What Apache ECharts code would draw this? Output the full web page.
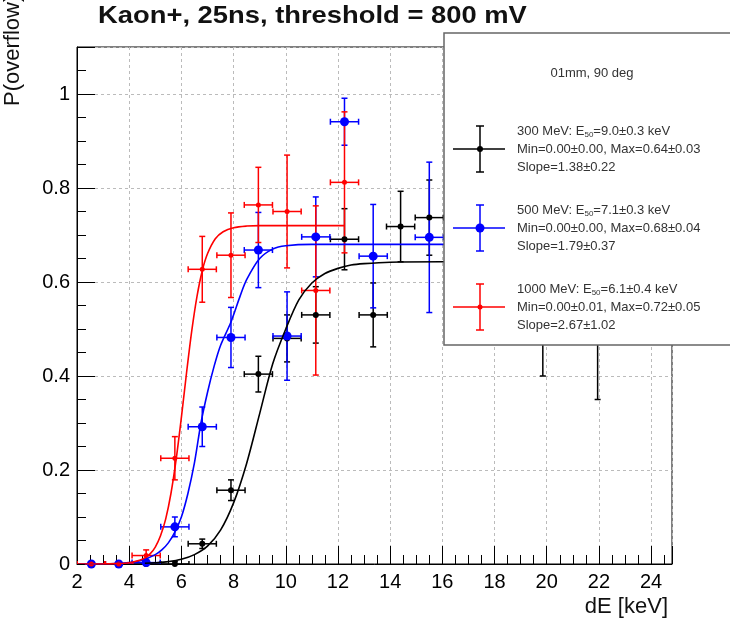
<!DOCTYPE html>
<html>
<head>
<meta charset="utf-8">
<script src="https://cdn.jsdelivr.net/npm/echarts@6/dist/echarts.min.js"></script>
<style>
  html, body { margin: 0; padding: 0; background: #fff; }
  #chart { width: 730px; height: 627px; }
</style>
</head>
<body>
<div id="chart"></div>
<script>
// 300 MeV (black)
const blackX   = [4.65, 5.75, 6.8, 7.9, 8.95, 10.05, 11.15, 12.25, 13.35, 14.4, 15.5, 19.85, 21.95];
const blackY   = [0.0, 0.0, 0.043, 0.157, 0.404, 0.48, 0.53, 0.691, 0.53, 0.718, 0.737, 0.62, 0.62];
const blackErr = [0.004, 0.005, 0.01, 0.022, 0.038, 0.05, 0.06, 0.065, 0.068, 0.075, 0.08, 0.22, 0.27];
// 500 MeV (blue)
const blueX   = [2.55, 3.6, 4.65, 5.75, 6.8, 7.9, 8.95, 10.05, 11.15, 12.25, 13.35, 15.5];
const blueY   = [0.0, 0.0, 0.003, 0.079, 0.292, 0.482, 0.668, 0.485, 0.696, 0.941, 0.655, 0.695];
const blueErr = [0.003, 0.003, 0.005, 0.021, 0.042, 0.064, 0.08, 0.094, 0.085, 0.05, 0.11, 0.16];
// 1000 MeV (red)
const redX   = [2.55, 3.6, 4.65, 5.75, 6.8, 7.9, 8.95, 10.05, 11.15, 12.25];
const redY   = [0.0, 0.0, 0.018, 0.225, 0.627, 0.657, 0.764, 0.75, 0.582, 0.812];
const redErr = [0.003, 0.003, 0.012, 0.046, 0.07, 0.09, 0.08, 0.12, 0.18, 0.15];
const binHalf = 0.54;

// fitted curves
const blackFitX = [4.6, 5.0, 5.5, 6.0, 6.5, 7.0, 7.5, 8.0, 8.5, 9.0, 9.5, 10.0, 10.5, 11.0, 11.5, 12.0, 12.5, 13.0, 14.0, 16.0, 22.5];
const blackFitY = [0.0015, 0.0026, 0.005, 0.010, 0.02, 0.038, 0.072, 0.13, 0.214, 0.32, 0.426, 0.5, 0.562, 0.598, 0.618, 0.629, 0.636, 0.639, 0.642, 0.643, 0.643];
const blueFitX = [2.3, 3.5, 4.0, 4.5, 5.0, 5.25, 5.5, 5.75, 6.0, 6.25, 6.5, 6.75, 7.0, 7.25, 7.5, 7.9, 8.25, 8.5, 9.0, 9.5, 10.0, 11.0, 16.2];
const blueFitY = [0.0, 0.001, 0.003, 0.008, 0.02, 0.03, 0.045, 0.068, 0.1, 0.15, 0.215, 0.3, 0.365, 0.42, 0.465, 0.515, 0.57, 0.605, 0.65, 0.67, 0.677, 0.68, 0.68];
const redFitX = [2.3, 3.0, 3.5, 4.0, 4.5, 4.8, 5.0, 5.2, 5.4, 5.6, 5.8, 6.0, 6.2, 6.4, 6.6, 6.8, 7.0, 7.3, 7.6, 8.0, 8.5, 9.0, 10.0, 12.25];
const redFitY = [0.0, 0.0002, 0.0007, 0.0026, 0.0099, 0.0217, 0.036, 0.06, 0.096, 0.15, 0.223, 0.312, 0.408, 0.497, 0.57, 0.624, 0.66, 0.692, 0.707, 0.7155, 0.719, 0.72, 0.72, 0.72];

const legendLines = [
  ['300 MeV: E{sub|50}=9.0±0.3 keV', 'Min=0.00±0.00, Max=0.64±0.03', 'Slope=1.38±0.22'],
  ['500 MeV: E{sub|50}=7.1±0.3 keV', 'Min=0.00±0.00, Max=0.68±0.04', 'Slope=1.79±0.37'],
  ['1000 MeV: E{sub|50}=6.1±0.4 keV', 'Min=0.00±0.01, Max=0.72±0.05', 'Slope=2.67±1.02']
];
const colors = ['#000000', '#0000ff', '#ff0000'];

const FONT = '"Liberation Sans", Arial, Helvetica, sans-serif';
const chart = echarts.init(document.getElementById('chart'));

function zip(xs, ys, es) {
  return xs.map((x, i) => es ? [x, ys[i], es[i]] : [x, ys[i]]);
}

function errRender(color) {
  return function (params, api) {
    const x = api.value(0), y = api.value(1), e = api.value(2);
    const c = api.coord([x, y]);
    const t = api.coord([x, y + e]);
    const b = api.coord([x, y - e]);
    const l = api.coord([x - binHalf, y]);
    const r = api.coord([x + binHalf, y]);
    const st = { stroke: color, lineWidth: 1.5 };
    const cap = 3;
    return {
      type: 'group',
      children: [
        { type: 'line', shape: { x1: c[0], y1: t[1], x2: c[0], y2: b[1] }, style: st },
        { type: 'line', shape: { x1: l[0], y1: c[1], x2: r[0], y2: c[1] }, style: st },
        { type: 'line', shape: { x1: c[0] - cap, y1: t[1], x2: c[0] + cap, y2: t[1] }, style: st },
        { type: 'line', shape: { x1: c[0] - cap, y1: b[1], x2: c[0] + cap, y2: b[1] }, style: st },
        { type: 'line', shape: { x1: l[0], y1: c[1] - cap, x2: l[0], y2: c[1] + cap }, style: st },
        { type: 'line', shape: { x1: r[0], y1: c[1] - cap, x2: r[0], y2: c[1] + cap }, style: st }
      ]
    };
  };
}

function fitSeries(xs, ys, color) {
  return {
    type: 'line', data: zip(xs, ys), smooth: 0.3, symbol: 'none',
    lineStyle: { color: color, width: 1.6 }, silent: true, clip: true
  };
}
function errSeries(xs, ys, es, color) {
  return { type: 'custom', data: zip(xs, ys, es), renderItem: errRender(color), clip: true, silent: true };
}
function markSeries(xs, ys, color, size) {
  return {
    type: 'scatter', data: zip(xs, ys), symbol: 'circle', symbolSize: size,
    itemStyle: { color: color, opacity: 1 }, silent: true
  };
}

// legend drawn on top of the plot
const lg = [];
lg.push({ type: 'rect', z: 100, shape: { x: 444, y: 33, width: 300, height: 312 },
  style: { fill: '#fff', stroke: '#666', lineWidth: 1.5 } });
lg.push({ type: 'text', z: 101, x: 592, y: 73,
  style: { text: '01mm, 90 deg', font: '13px ' + FONT, fill: '#333', align: 'center', verticalAlign: 'middle' } });
const entryY = [149, 228, 307];
const markSize = [6, 9, 5];
entryY.forEach((cy, k) => {
  const col = colors[k];
  const st = { stroke: col, lineWidth: 1.5 };
  lg.push({ type: 'line', z: 101, shape: { x1: 480, y1: cy - 23, x2: 480, y2: cy + 23 }, style: st });
  lg.push({ type: 'line', z: 101, shape: { x1: 476, y1: cy - 23, x2: 484, y2: cy - 23 }, style: st });
  lg.push({ type: 'line', z: 101, shape: { x1: 476, y1: cy + 23, x2: 484, y2: cy + 23 }, style: st });
  lg.push({ type: 'line', z: 101, shape: { x1: 453, y1: cy, x2: 505, y2: cy }, style: st });
  lg.push({ type: 'circle', z: 102, shape: { cx: 480, cy: cy, r: markSize[k] / 2 }, style: { fill: col } });
  legendLines[k].forEach((txt, j) => {
    lg.push({ type: 'text', z: 101, x: 517, y: cy - 18 + j * 18,
      style: {
        text: txt, font: '13px ' + FONT, fill: '#333', align: 'left', verticalAlign: 'middle',
        rich: { sub: { fontSize: 8, fontFamily: FONT, fill: '#333', padding: [7, 0, 0, 0] } }
      } });
  });
});

const option = {
  backgroundColor: '#fff',
  animation: false,
  grid: { left: 77, right: 58, top: 47, bottom: 63, show: true, borderColor: '#000', borderWidth: 1 },
  xAxis: {
    type: 'value', min: 2, max: 24.8, interval: 2,
    axisLine: { lineStyle: { color: '#000', width: 1 } },
    axisTick: { inside: true, length: 18, lineStyle: { color: '#000' } },
    minorTick: { show: true, splitNumber: 4, length: 9, lineStyle: { color: '#000' } },
    splitLine: { show: true, lineStyle: { color: '#bbb', type: [3, 3], width: 1 } },
    axisLabel: { color: '#000', fontSize: 20, fontFamily: FONT, margin: 8, showMaxLabel: false }
  },
  yAxis: {
    type: 'value', min: 0, max: 1.1, interval: 0.2,
    axisLine: { lineStyle: { color: '#000', width: 1 } },
    axisTick: { inside: true, length: 18, lineStyle: { color: '#000' } },
    minorTick: { show: true, splitNumber: 4, length: 9, lineStyle: { color: '#000' } },
    splitLine: { show: true, lineStyle: { color: '#bbb', type: [3, 3], width: 1 } },
    axisLabel: { color: '#000', fontSize: 20, fontFamily: FONT, margin: 7, showMaxLabel: false }
  },
  graphic: {
    elements: [
      { type: 'text', x: 98, y: 16, scaleX: 1.14,
        style: { text: 'Kaon+, 25ns, threshold = 800 mV', font: 'bold 24px ' + FONT, fill: '#111',
          align: 'left', verticalAlign: 'middle' } },
      { type: 'text', x: 13, y: 106, rotation: Math.PI / 2,
        style: { text: 'P(overflow)', font: '22px ' + FONT, fill: '#111', align: 'left', verticalAlign: 'middle' } },
      { type: 'text', x: 668, y: 607,
        style: { text: 'dE [keV]', font: '22px ' + FONT, fill: '#111', align: 'right', verticalAlign: 'middle' } }
    ].concat(lg)
  },
  series: [
    fitSeries(blackFitX, blackFitY, colors[0]),
    errSeries(blackX, blackY, blackErr, colors[0]),
    markSeries(blackX, blackY, colors[0], 6),
    fitSeries(blueFitX, blueFitY, colors[1]),
    errSeries(blueX, blueY, blueErr, colors[1]),
    markSeries(blueX, blueY, colors[1], 9),
    fitSeries(redFitX, redFitY, colors[2]),
    errSeries(redX, redY, redErr, colors[2]),
    markSeries(redX, redY, colors[2], 5)
  ]
};
chart.setOption(option);
</script>
</body>
</html>
